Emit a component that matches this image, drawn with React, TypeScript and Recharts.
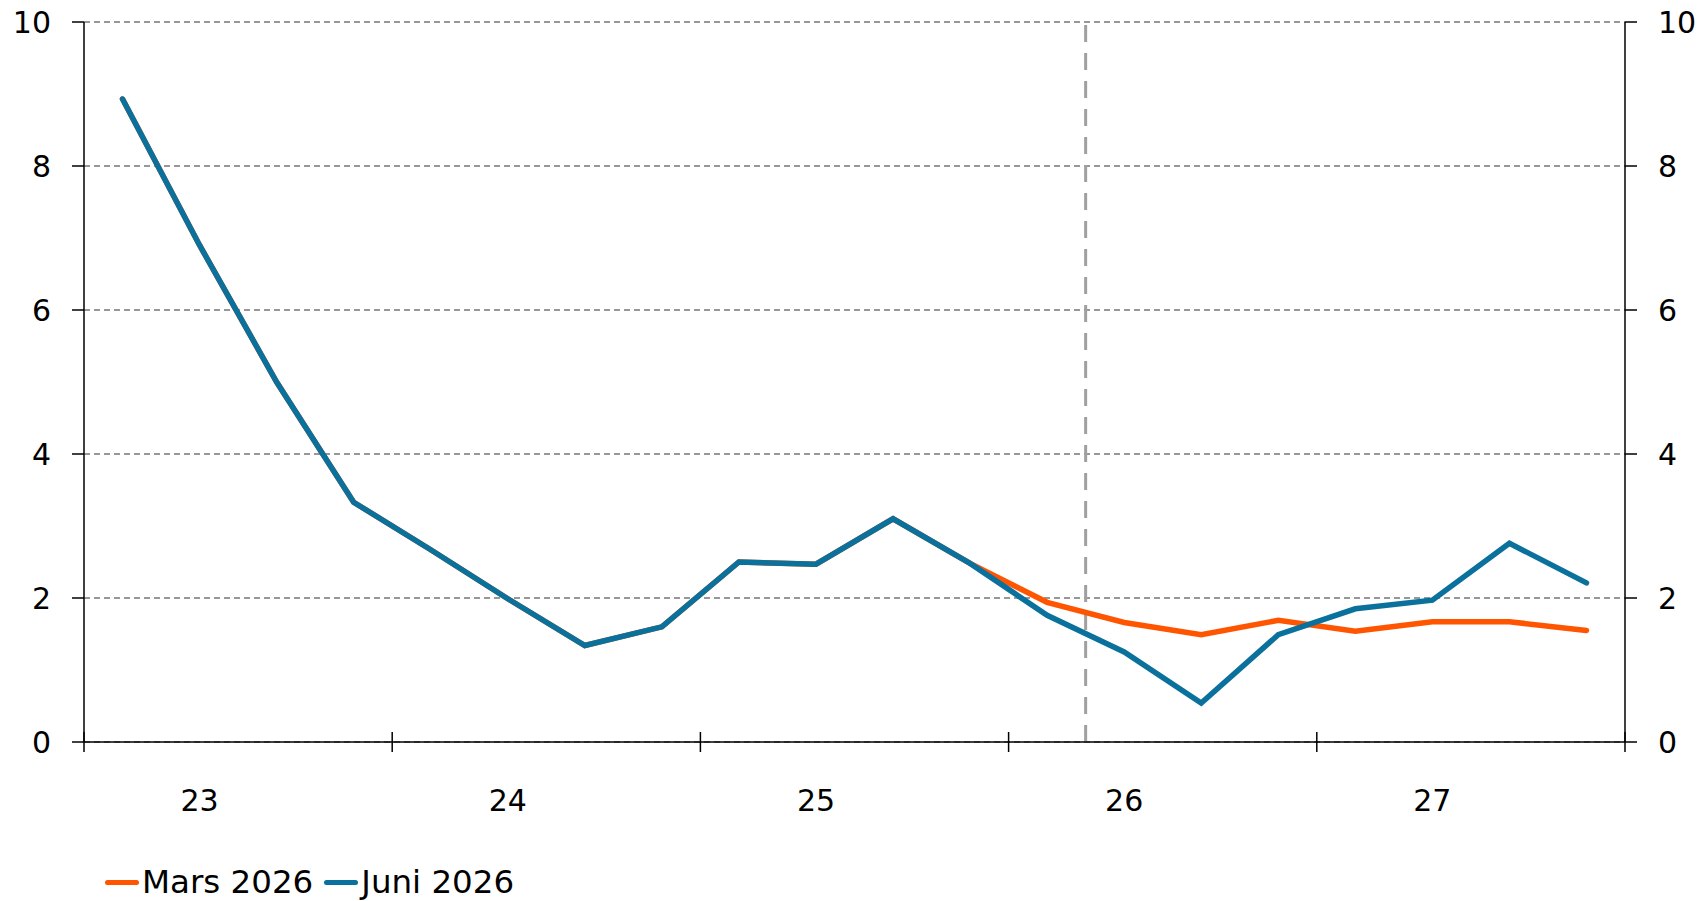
import React from 'react';
import { LineChart, Line, XAxis, YAxis, CartesianGrid, ReferenceLine } from 'recharts';

// quarterly, 2023 Q1 .. 2027 Q4
const quarters = [
  '23K1', '23K2', '23K3', '23K4',
  '24K1', '24K2', '24K3', '24K4',
  '25K1', '25K2', '25K3', '25K4',
  '26K1', '26K2', '26K3', '26K4',
  '27K1', '27K2', '27K3', '27K4',
];
const years = ['23', '24', '25', '26', '27'];

const mars2026 = [
  8.93, 6.9, 5.0, 3.33, 2.67, 1.99, 1.34, 1.6, 2.5, 2.47, 3.1, 2.48,
  1.94, 1.66, 1.49, 1.69, 1.54, 1.67, 1.67, 1.55,
];
const juni2026 = [
  8.93, 6.9, 5.0, 3.33, 2.67, 1.99, 1.34, 1.6, 2.5, 2.47, 3.1, 2.48,
  1.76, 1.25, 0.54, 1.49, 1.85, 1.97, 2.76, 2.21,
];

const yTicks = [0, 2, 4, 6, 8, 10];
const forecastStart = 13; // boundary between 26K1 and 26K2

const ORANGE = '#ff5500';
const BLUE = '#0a709c';
const FONT = '"DejaVu Sans", Verdana, sans-serif';

const data = quarters.map((q, i) => ({
  q,
  t: i + 0.5,
  mars: mars2026[i],
  juni: juni2026[i],
}));

// year boundaries get a tick crossing the axis, labels sit under the 2nd quarter
const xTicks: number[] = [0];
years.forEach((_, i) => xTicks.push(i * 4 + 1.5, i * 4 + 4));

const XTick = (props: any) => {
  const { x, y, payload } = props;
  const v = payload.value;
  if (v % 4 === 0) {
    return <line x1={x} x2={x} y1={y - 10} y2={y + 10} stroke="#000" strokeWidth={1.5} />;
  }
  return (
    <text x={x} y={y + 58} textAnchor="middle" dominantBaseline="central"
      fontFamily={FONT} fontSize={30} fill="#000">
      {years[(v - 1.5) / 4]}
    </text>
  );
};

const LegendItem = ({ color, label }: { color: string; label: string }) => (
  <span style={{ display: 'inline-flex', alignItems: 'center', marginRight: 11 }}>
    <span style={{ display: 'inline-block', width: 34, height: 5, borderRadius: 3, background: color, marginRight: 3 }} />
    <span>{label}</span>
  </span>
);

export default function App() {
  return (
    <div style={{ position: 'absolute', left: 0, top: 0, width: 1701, height: 901, background: '#fff' }}>
      <LineChart width={1701} height={901} data={data}
        margin={{ top: 22, right: 0, left: 0, bottom: 79 }}>
        <CartesianGrid vertical={false} yAxisId="left" stroke="#777" strokeDasharray="6 4" strokeWidth={1.3} />
        <XAxis dataKey="t" type="number" domain={[0, 20]} ticks={xTicks} interval={0}
          height={80} tickSize={0} tickMargin={0} tickLine={false} tick={<XTick />}
          axisLine={{ stroke: '#000', strokeWidth: 1.5 }} allowDataOverflow />
        <YAxis yAxisId="left" orientation="left" type="number" domain={[0, 10]} ticks={yTicks} width={84}
          allowDataOverflow tickSize={12} tickMargin={21} axisLine={{ stroke: '#000', strokeWidth: 1.5 }}
          tickLine={{ stroke: '#000', strokeWidth: 1.5 }}
          tick={{ fill: '#000', fontSize: 30, fontFamily: FONT }} />
        <YAxis yAxisId="right" orientation="right" type="number" domain={[0, 10]} ticks={yTicks} width={76}
          allowDataOverflow tickSize={12} tickMargin={21} axisLine={{ stroke: '#000', strokeWidth: 1.5 }}
          tickLine={{ stroke: '#000', strokeWidth: 1.5 }}
          tick={{ fill: '#000', fontSize: 30, fontFamily: FONT }} />
        <ReferenceLine yAxisId="left" x={forecastStart} stroke="#a0a0a0" strokeWidth={3} strokeDasharray="17 11" />
        <Line yAxisId="left" dataKey="mars" stroke={ORANGE} strokeWidth={5.5} dot={false}
          isAnimationActive={false} strokeLinejoin="miter" strokeLinecap="round" />
        <Line yAxisId="right" dataKey="juni" stroke={BLUE} strokeWidth={5.5} dot={false}
          isAnimationActive={false} strokeLinejoin="miter" strokeLinecap="round" />
      </LineChart>
      <div style={{ position: 'absolute', left: 105, top: 863, fontFamily: FONT, fontSize: 32.5, color: '#000', display: 'flex', whiteSpace: 'nowrap', lineHeight: '38px' }}>
        <LegendItem color={ORANGE} label="Mars 2026" />
        <LegendItem color={BLUE} label="Juni 2026" />
      </div>
    </div>
  );
}
